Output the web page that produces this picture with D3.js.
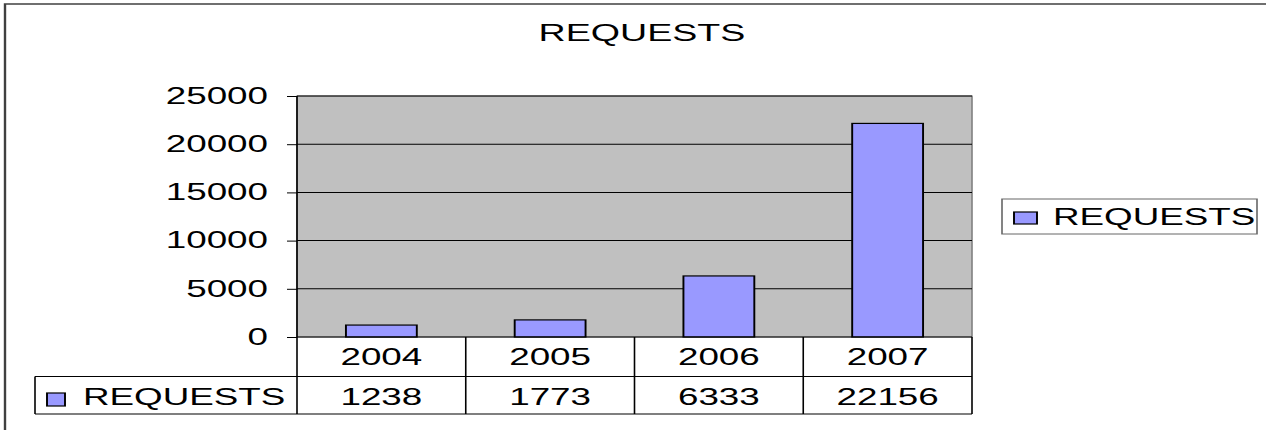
<!DOCTYPE html>
<html>
<head>
<meta charset="utf-8">
<script src="https://cdn.jsdelivr.net/npm/d3@7"></script>
<style>
  body { margin: 0; background: #fff; }
  text { font-family: "Liberation Sans", Arial, sans-serif; fill: #000; }
</style>
</head>
<body>
<div id="chart"></div>
<script>
// chart data
var title = 'REQUESTS';
var seriesName = 'REQUESTS';
var years = ['2004', '2005', '2006', '2007'];
var requests = [1238, 1773, 6333, 22156];
var yTicks = [0, 5000, 10000, 15000, 20000, 25000];

// the original picture is stretched sideways, so everything is drawn
// inside a group that is scaled on x only
var S = 1.6;
var W = 1266, H = 430;
function px(v) { return v / S; }

var plot = {left: 297, right: 972, top: 96, bottom: 337};
var row1 = 376.5, row2 = 414, tableLeft = 35;
var fontSize = 23;

var svg = d3.select('#chart').append('svg')
    .attr('width', W)
    .attr('height', H);

var g = svg.append('g')
    .attr('transform', 'scale(' + S + ',1)');

// outer frame
g.append('rect')
    .attr('x', px(5)).attr('y', 4)
    .attr('width', px(W)).attr('height', H)
    .attr('fill', 'none')
    .attr('stroke', '#404040')
    .attr('stroke-width', 1.5);

// scales
var x = d3.scaleBand().domain(years)
    .range([px(plot.left), px(plot.right)]);
var xBar = d3.scaleBand().domain(years)
    .range([px(plot.left), px(plot.right)])
    .paddingInner(0.58).paddingOuter(0.29);
var y = d3.scaleLinear().domain([0, 25000]).range([plot.bottom, plot.top]);

// plot area
g.append('rect')
    .attr('x', px(plot.left)).attr('y', plot.top)
    .attr('width', px(plot.right - plot.left))
    .attr('height', plot.bottom - plot.top)
    .attr('fill', '#c0c0c0')
    .attr('stroke', '#808080')
    .attr('stroke-width', 1);

// gridlines
g.selectAll('.grid')
    .data(yTicks.filter(function(d) { return d > 0; }))
    .enter().append('line')
    .attr('class', 'grid')
    .attr('x1', px(plot.left)).attr('x2', px(plot.right))
    .attr('y1', function(d) { return y(d); })
    .attr('y2', function(d) { return y(d); })
    .attr('stroke', '#000')
    .attr('stroke-width', 1);

// bars
g.selectAll('.bar')
    .data(requests)
    .enter().append('rect')
    .attr('class', 'bar')
    .attr('x', function(d, i) { return xBar(years[i]); })
    .attr('width', xBar.bandwidth())
    .attr('y', function(d) { return y(d); })
    .attr('height', function(d) { return y(0) - y(d); })
    .attr('fill', '#9999ff')
    .attr('stroke', '#000')
    .attr('stroke-width', 1.2);

// y axis
var yAxis = g.append('g')
    .attr('transform', 'translate(' + px(plot.left) + ',0)')
    .call(d3.axisLeft(y)
        .tickValues(yTicks)
        .tickFormat(d3.format('d'))
        .tickSize(px(10))
        .tickSizeOuter(0)
        .tickPadding(px(19)));
yAxis.select('.domain').remove();
yAxis.selectAll('.tick line').attr('stroke', '#000');
yAxis.selectAll('.tick text')
    .style('font-size', fontSize + 'px')
    .style('font-family', '"Liberation Sans", Arial, sans-serif')
    .attr('fill', '#000');

// axis line runs down through the data table
g.append('line')
    .attr('x1', px(plot.left)).attr('x2', px(plot.left))
    .attr('y1', plot.top).attr('y2', row2)
    .attr('stroke', '#000').attr('stroke-width', 1);

// data table
var table = g.append('g').attr('stroke', '#000').attr('stroke-width', 1);
table.append('line')
    .attr('x1', px(plot.left)).attr('x2', px(plot.right))
    .attr('y1', plot.bottom).attr('y2', plot.bottom);
table.append('line')
    .attr('x1', px(tableLeft)).attr('x2', px(plot.right))
    .attr('y1', row1).attr('y2', row1);
table.append('line')
    .attr('x1', px(tableLeft)).attr('x2', px(plot.right))
    .attr('y1', row2).attr('y2', row2);
table.append('line')
    .attr('x1', px(tableLeft)).attr('x2', px(tableLeft))
    .attr('y1', row1).attr('y2', row2);
table.selectAll('.col')
    .data(years)
    .enter().append('line')
    .attr('class', 'col')
    .attr('x1', function(d) { return x(d) + x.bandwidth(); })
    .attr('x2', function(d) { return x(d) + x.bandwidth(); })
    .attr('y1', plot.bottom).attr('y2', row2);

g.selectAll('.year')
    .data(years)
    .enter().append('text')
    .attr('class', 'year')
    .attr('x', function(d) { return x(d) + x.bandwidth() / 2; })
    .attr('y', 365.5)
    .attr('text-anchor', 'middle')
    .style('font-size', fontSize + 'px')
    .text(function(d) { return d; });

g.selectAll('.value')
    .data(requests)
    .enter().append('text')
    .attr('class', 'value')
    .attr('x', function(d, i) { return x(years[i]) + x.bandwidth() / 2; })
    .attr('y', 405.5)
    .attr('text-anchor', 'middle')
    .style('font-size', fontSize + 'px')
    .text(function(d) { return d; });

// legend key inside the table
g.append('rect')
    .attr('x', px(47)).attr('y', 393)
    .attr('width', px(18)).attr('height', 13)
    .attr('fill', '#9999ff').attr('stroke', '#000').attr('stroke-width', 1.2);
g.append('text')
    .attr('x', px(83)).attr('y', 405.5)
    .style('font-size', fontSize + 'px')
    .text(seriesName);

// title
g.append('text')
    .attr('x', px(642)).attr('y', 41.5)
    .attr('text-anchor', 'middle')
    .style('font-size', '23.5px')
    .text(title);

// legend
g.append('rect')
    .attr('x', px(1002)).attr('y', 199)
    .attr('width', px(255)).attr('height', 35)
    .attr('fill', '#fff').attr('stroke', '#666').attr('stroke-width', 1);
g.append('rect')
    .attr('x', px(1014)).attr('y', 212)
    .attr('width', px(23)).attr('height', 12)
    .attr('fill', '#9999ff').attr('stroke', '#000').attr('stroke-width', 1.2);
g.append('text')
    .attr('x', px(1053)).attr('y', 225)
    .style('font-size', fontSize + 'px')
    .text(seriesName);
</script>
</body>
</html>
